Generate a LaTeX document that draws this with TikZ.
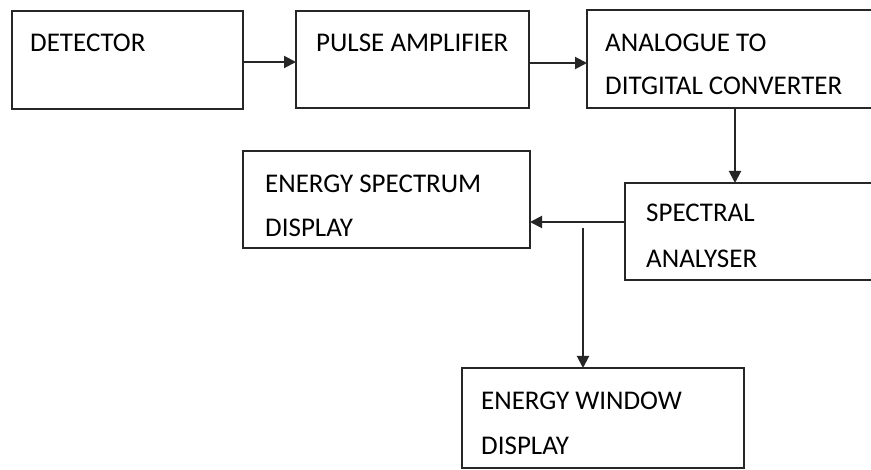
\documentclass[tikz,border=0pt]{standalone}
\usepackage{fontspec}
\setmainfont{Carlito}
\usetikzlibrary{arrows.meta}
\begin{document}
\begin{tikzpicture}[x=1pt,y=-1pt,
  blk/.style={draw=black!85, line width=2pt, anchor=north west, inner sep=0pt, outer sep=0pt},
  lbl/.style={anchor=base west, inner sep=0pt, font=\fontsize{27}{32}\selectfont, text=black},
  conn/.style={draw=black!85, line width=2pt, -{Triangle[length=12pt,width=12pt]}}]
\clip (0,0) rectangle (871,470);
\fill[white] (0,0) rectangle (871,470);
% boxes
\node[blk, minimum width=231pt, minimum height=98pt] (det) at (12,11) {};
\node[blk, minimum width=233pt, minimum height=97pt] (pulse) at (296,11) {};
\node[blk, minimum width=300pt, minimum height=98pt] (adc) at (587,10) {};
\node[blk, minimum width=260pt, minimum height=97pt] (sa) at (625,183) {};
\node[blk, minimum width=287pt, minimum height=97pt] (esd) at (243,151) {};
\node[blk, minimum width=282pt, minimum height=100pt] (ewd) at (462,368) {};
% labels
\node[lbl] (t1) at (30,52) {DETECTOR};
\node[lbl] (t2) at (316,52) {PULSE AMPLIFIER};
\node[lbl] (t3) at (605,52) {ANALOGUE TO};
\node[lbl] (t4) at (605,95) {DITGITAL CONVERTER};
\node[lbl] (t5) at (265,193) {ENERGY SPECTRUM};
\node[lbl] (t6) at (265,237) {DISPLAY};
\node[lbl] (t7) at (646,222) {SPECTRAL};
\node[lbl] (t8) at (646,268) {ANALYSER};
\node[lbl] (t9) at (481,410) {ENERGY WINDOW};
\node[lbl] (t10) at (481,455) {DISPLAY};
% connectors
\draw[conn] (det.east |- 0,62) -- (pulse.west |- 0,62);
\draw[conn] (pulse.east |- 0,63) -- (adc.west |- 0,63);
\draw[conn] (adc.south -| 735,0) -- (sa.north -| 735,0);
\draw[conn] (sa.west |- 0,222) -- (esd.east |- 0,222);
\coordinate (vs) at (583,228);
\draw[conn] (vs) -- (ewd.north -| vs);
\end{tikzpicture}
\end{document}
